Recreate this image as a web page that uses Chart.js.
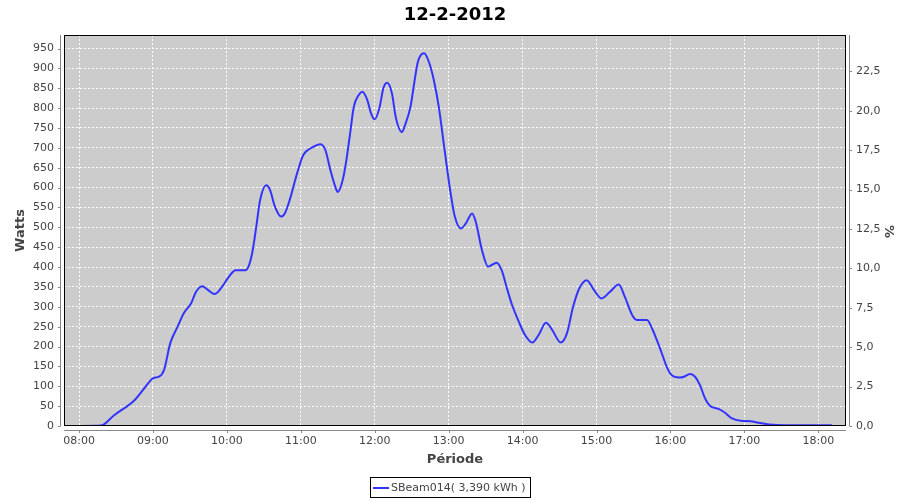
<!DOCTYPE html>
<html>
<head>
<meta charset="utf-8">
<title>12-2-2012</title>
<script src="https://cdn.jsdelivr.net/npm/chart.js@4/dist/chart.umd.min.js"></script>
<style>
    html, body { margin: 0; padding: 0; background: #fff; }
    #wrap { width: 900px; height: 500px; }
</style>
</head>
<body>
<div id="wrap"><canvas id="powerChart" width="900" height="500"></canvas></div>
<script>
// values
const times = ['08:00','08:18','08:28','08:45','08:53','09:00','09:05','09:09','09:14','09:20',
    '09:25','09:31','09:35','09:40','09:44','09:50','09:56','10:02','10:07','10:15',
    '10:18','10:21','10:24','10:27','10:32','10:35','10:39','10:44','10:47','10:51',
    '10:57','11:02','11:08','11:13','11:16','11:20','11:24','11:28','11:30','11:34',
    '11:37','11:40','11:43','11:47','11:50','11:54','11:57','12:00','12:04','12:07',
    '12:10','12:14','12:17','12:22','12:25','12:29','12:32','12:35','12:40','12:44',
    '12:48','12:52','12:56','13:01','13:05','13:10','13:14','13:19','13:22','13:27',
    '13:32','13:39','13:43','13:47','13:51','13:57','14:02','14:08','14:13','14:19',
    '14:24','14:31','14:36','14:41','14:46','14:52','14:58','15:04','15:11','15:18',
    '15:23','15:29','15:33','15:41','15:45','15:49','15:53','15:57','16:01','16:07',
    '16:11','16:16','16:20','16:24','16:28','16:32','16:39','16:44','16:50','16:57',
    '17:05','17:12','17:20','17:33','18:11'];
const watts = [0,1,26,65,95,120,124,141,208,250,
    284,309,338,352,344,332,350,377,392,392,
    405,443,505,569,606,594,552,527,535,569,
    636,682,699,707,709,694,644,602,589,619,
    669,736,803,833,841,820,787,772,803,850,
    864,837,778,740,761,803,862,916,938,916,
    870,803,711,598,527,497,510,535,514,443,
    401,411,392,350,309,262,229,210,229,260,
    242,210,233,300,346,367,342,321,338,356,
    325,279,267,267,246,216,183,149,128,122,
    124,131,124,103,70,51,43,34,19,13,
    12,8,4,2,2];
const hourTicks = ['08:00','09:00','10:00','11:00','12:00','13:00','14:00','15:00','16:00','17:00','18:00'];
const wattTicks = [0,50,100,150,200,250,300,350,400,450,500,550,600,650,700,750,800,850,900,950];
const pctTicks = [0,2.5,5,7.5,10,12.5,15,17.5,20,22.5];
const seriesName = 'SBeam014( 3,390 kWh )';
const chartTitle = '12-2-2012';

function toMin(t) {
    const p = t.split(':');
    return (parseInt(p[0]) - 8) * 60 + parseInt(p[1]);
}
function toClock(m) {
    const h = 8 + Math.floor(m / 60);
    const mm = Math.round(m % 60);
    return (h < 10 ? '0' : '') + h + ':' + (mm < 10 ? '0' : '') + mm;
}

const FONT = '"DejaVu Sans", Verdana, sans-serif';
const TEXT = '#444444';
const AXIS = '#888888';

// background, frame, offset axis lines, titles and legend box
const decor = {
    id: 'decor',
    beforeDraw(chart) {
        const { ctx, chartArea: a } = chart;
        ctx.save();
        ctx.fillStyle = '#ffffff';
        ctx.fillRect(0, 0, chart.width, chart.height);
        ctx.fillStyle = '#cccccc';
        ctx.fillRect(a.left, a.top, a.right - a.left, a.bottom - a.top);
        ctx.restore();
    },
    afterDraw(chart) {
        const { ctx, chartArea: a, scales } = chart;
        ctx.save();
        ctx.strokeStyle = '#000000';
        ctx.lineWidth = 1;
        ctx.strokeRect(a.left + 0.5, a.top + 0.5, a.right - a.left - 1, a.bottom - a.top - 1);

        ctx.strokeStyle = AXIS;
        ctx.beginPath();
        ctx.moveTo(a.left - 3.5, a.top);
        ctx.lineTo(a.left - 3.5, a.bottom);
        ctx.moveTo(a.right + 3.5, a.top);
        ctx.lineTo(a.right + 3.5, a.bottom);
        ctx.moveTo(a.left, a.bottom + 4.5);
        ctx.lineTo(a.right, a.bottom + 4.5);
        scales.y.ticks.forEach(t => {
            const y = Math.round(scales.y.getPixelForValue(t.value)) + 0.5;
            ctx.moveTo(a.left - 6, y);
            ctx.lineTo(a.left - 3.5, y);
        });
        scales.y1.ticks.forEach(t => {
            const y = Math.round(scales.y1.getPixelForValue(t.value)) + 0.5;
            ctx.moveTo(a.right + 3.5, y);
            ctx.lineTo(a.right + 6, y);
        });
        scales.x.ticks.forEach(t => {
            const x = Math.round(scales.x.getPixelForValue(t.value)) + 0.5;
            ctx.moveTo(x, a.bottom + 4.5);
            ctx.lineTo(x, a.bottom + 7);
        });
        ctx.stroke();

        // titles
        ctx.textAlign = 'center';
        ctx.textBaseline = 'middle';
        ctx.fillStyle = '#000000';
        ctx.font = 'bold 18px ' + FONT;
        ctx.fillText(chartTitle, (a.left + a.right) / 2, 15);

        ctx.fillStyle = TEXT;
        ctx.font = 'bold 13px ' + FONT;
        ctx.fillText('Période', (a.left + a.right) / 2, 460);
        ctx.save();
        ctx.translate(21, (a.top + a.bottom) / 2);
        ctx.rotate(-Math.PI / 2);
        ctx.fillText('Watts', 0, 0);
        ctx.restore();
        ctx.save();
        ctx.translate(888, (a.top + a.bottom) / 2 + 1);
        ctx.rotate(Math.PI / 2);
        ctx.fillText('%', 0, 0);
        ctx.restore();

        // legend
        ctx.font = '11px ' + FONT;
        const tw = ctx.measureText(seriesName).width;
        const bw = tw + 25;
        const bx = Math.round(450 - bw / 2);
        ctx.strokeStyle = '#000000';
        ctx.strokeRect(bx + 0.5, 477.5, Math.round(bw), 20);
        ctx.strokeStyle = '#3333ff';
        ctx.lineWidth = 2;
        ctx.beginPath();
        ctx.moveTo(bx + 3, 488);
        ctx.lineTo(bx + 19, 488);
        ctx.stroke();
        ctx.textAlign = 'left';
        ctx.fillStyle = TEXT;
        ctx.fillText(seriesName, bx + 21, 488);
        ctx.restore();
    }
};

document.addEventListener('DOMContentLoaded', function() {
    const ctx = document.getElementById('powerChart').getContext('2d');
    const points = times.map((t, i) => ({ x: toMin(t), y: watts[i] }));

    new Chart(ctx, {
        type: 'line',
        data: {
            datasets: [{
                label: seriesName,
                data: points,
                borderColor: '#3333ff',
                borderWidth: 2,
                pointRadius: 0,
                fill: false,
                cubicInterpolationMode: 'monotone',
                yAxisID: 'y'
            }]
        },
        plugins: [decor],
        options: {
            responsive: false,
            animation: false,
            layout: { padding: { top: 35, left: 0, right: 0, bottom: 0 } },
            plugins: {
                legend: { display: false },
                title: { display: false },
                tooltip: { enabled: false }
            },
            scales: {
                x: {
                    type: 'linear',
                    min: -12.2,
                    max: 622.5,
                    afterBuildTicks: s => { s.ticks = hourTicks.map(h => ({ value: toMin(h) })); },
                    afterFit: s => { s.height = 74; },
                    grid: { color: '#ffffff', lineWidth: 1, tickLength: 7, tickColor: 'rgba(0,0,0,0)' },
                    border: { display: false, dash: [2, 2] },
                    ticks: {
                        autoSkip: false,
                        maxRotation: 0,
                        padding: 2,
                        color: TEXT,
                        font: { family: FONT, size: 11 },
                        callback: v => toClock(v)
                    }
                },
                y: {
                    position: 'left',
                    min: 0,
                    max: 984,
                    afterBuildTicks: s => { s.ticks = wattTicks.map(v => ({ value: v })); },
                    afterFit: s => { s.width = 64; },
                    grid: { color: '#ffffff', lineWidth: 1, tickLength: 6, tickColor: 'rgba(0,0,0,0)' },
                    border: { display: false, dash: [2, 2] },
                    ticks: {
                        padding: 4,
                        color: TEXT,
                        font: { family: FONT, size: 11 },
                        callback: v => String(v)
                    }
                },
                y1: {
                    position: 'right',
                    min: 0,
                    max: 24.8,
                    afterBuildTicks: s => { s.ticks = pctTicks.map(v => ({ value: v })); },
                    afterFit: s => { s.width = 54; },
                    grid: { drawOnChartArea: false, tickLength: 6, tickColor: 'rgba(0,0,0,0)' },
                    border: { display: false },
                    ticks: {
                        padding: 4,
                        color: TEXT,
                        font: { family: FONT, size: 11 },
                        callback: v => v.toFixed(1).replace('.', ',')
                    }
                }
            }
        }
    });
});
</script>
</body>
</html>
